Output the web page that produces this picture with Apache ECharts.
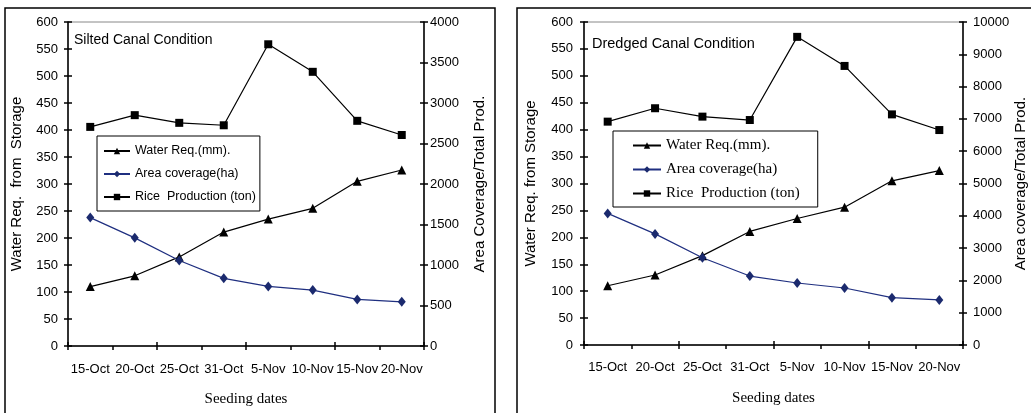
<!DOCTYPE html>
<html>
<head>
<meta charset="utf-8">
<script src="https://cdn.jsdelivr.net/npm/echarts@6/dist/echarts.min.js"></script>
<style>
html,body{margin:0;padding:0;background:#fff;}
#c{width:1031px;height:413px;}
</style>
</head>
<body>
<div id="c"></div>
<script>
const categories = ['15-Oct','20-Oct','25-Oct','31-Oct','5-Nov','10-Nov','15-Nov','20-Nov'];
const siltedWater = [110,130,165,211,235,255,305,326];
const siltedArea = [1585,1335,1055,835,735,690,575,545];
const siltedRice = [2705,2850,2755,2725,3725,3385,2780,2605];
const dredgedWater = [110,130,166,211,235,256,305,324];
const dredgedArea = [4075,3440,2700,2135,1920,1765,1465,1395];
const dredgedRice = [6915,7330,7070,6965,9540,8640,7140,6655];
const seriesNames = ['Water Req.(mm).','Area coverage(ha)','Rice  Production (ton)'];
const leftAxisTicks = {min:0,max:600,interval:50};
const siltedRightTicks = {min:0,max:4000,interval:500};
const dredgedRightTicks = {min:0,max:10000,interval:1000};

const SANS = 'Liberation Sans, Arial, sans-serif';
const SERIF = 'Liberation Serif, Times New Roman, serif';
const NAVY = '#1f2f80';

function xMain(grid, margin){
  return {type:'category',gridIndex:grid,data:categories,boundaryGap:true,
    axisLine:{lineStyle:{color:'#000',width:1.5}},
    axisTick:{show:true,length:4,inside:false,lineStyle:{color:'#000',width:1.5}},
    axisLabel:{color:'#000',fontFamily:SANS,fontSize:13,margin:margin,interval:0},
    name:'Seeding dates',nameLocation:'middle',nameGap:46,
    nameTextStyle:{color:'#000',fontFamily:SERIF,fontSize:15}};
}
function xIn(grid){
  return {type:'category',gridIndex:grid,data:categories,boundaryGap:true,position:'bottom',
    axisLine:{show:false},axisTick:{show:true,inside:true,length:4,lineStyle:{color:'#000',width:1.5}},
    axisLabel:{show:false},splitLine:{show:false}};
}
function yMain(grid, pos, t, name, gap, margin){
  return {type:'value',gridIndex:grid,position:pos,min:t.min,max:t.max,interval:t.interval,
    axisLine:{show:true,lineStyle:{color:'#000',width:1.5}},
    axisTick:{show:true,length:4,inside:false,lineStyle:{color:'#000',width:1.5}},
    axisLabel:{color:'#000',fontFamily:SANS,fontSize:13,margin:margin,formatter:function(v){return String(v);}},
    splitLine:{show:false},
    name:name,nameLocation:'middle',nameGap:gap,nameRotate:90,
    nameTextStyle:{color:'#000',fontFamily:SANS,fontSize:15}};
}
function yIn(grid,pos,t){
  return {type:'value',gridIndex:grid,position:pos,min:t.min,max:t.max,interval:t.interval,
    axisLine:{show:false},axisTick:{show:true,inside:true,length:4,lineStyle:{color:'#000',width:1.5}},
    axisLabel:{show:false},splitLine:{show:false}};
}
function mkSeries(name,data,xi,yi,color,symbol,size){
  return {type:'line',name:name,data:data,xAxisIndex:xi,yAxisIndex:yi,
    symbol:symbol,symbolSize:size,showSymbol:true,animation:false,
    lineStyle:{color:color,width:1.2},itemStyle:{color:color==='#000'?'#000':'#1b2a6e'},
    emphasis:{disabled:true}};
}

const chart = echarts.init(document.getElementById('c'),null,{renderer:'canvas'});
chart.setOption({
  backgroundColor:'#fff',
  animation:false,
  title:[
    {text:'Silted Canal Condition',left:74,top:33,textStyle:{color:'#000',fontFamily:SANS,fontSize:14,fontWeight:'normal'},padding:0},
    {text:'Dredged Canal Condition',left:592,top:36,textStyle:{color:'#000',fontFamily:SANS,fontSize:14.5,fontWeight:'normal'},padding:0}
  ],
  grid:[
    {left:68,top:22,right:607,bottom:67,show:true,borderColor:'#888',borderWidth:1,backgroundColor:'transparent'},
    {left:584,top:22,right:68,bottom:68,show:true,borderColor:'#888',borderWidth:1,backgroundColor:'transparent'}
  ],
  xAxis:[xMain(0,17),xIn(0),xMain(1,16),xIn(1)],
  yAxis:[
    yMain(0,'left',leftAxisTicks,'Water Req.  from  Storage',44,10),
    yIn(0,'left',leftAxisTicks),
    yMain(0,'right',siltedRightTicks,'Area Coverage/Total Prod.',48,6),
    yIn(0,'right',siltedRightTicks),
    yMain(1,'left',leftAxisTicks,'Water Req. from Storage',46,11),
    yIn(1,'left',leftAxisTicks),
    yMain(1,'right',dredgedRightTicks,'Area coverage/Total Prod.',50,10),
    yIn(1,'right',dredgedRightTicks)
  ],
  legend:[
    {data:seriesNames,orient:'vertical',left:97,top:136,itemWidth:26,itemHeight:8,itemGap:9,
     padding:[8,4,7,6],borderColor:'#000',borderWidth:1,backgroundColor:'#fff',selectedMode:false,
     textStyle:{color:'#000',fontFamily:SANS,fontSize:12.5,lineHeight:14}},
    {data:seriesNames,orient:'vertical',left:613,top:131,itemWidth:28,itemHeight:8,itemGap:9,
     padding:[7,18,6,19],borderColor:'#000',borderWidth:1,backgroundColor:'#fff',selectedMode:false,
     textStyle:{color:'#000',fontFamily:SERIF,fontSize:15,lineHeight:15}}
  ],
  graphic:[
    {type:'rect',shape:{x:5,y:8,width:490,height:420},style:{fill:'none',stroke:'#000',lineWidth:1.5},silent:true,z:-1},
    {type:'rect',shape:{x:517,y:8,width:600,height:420},style:{fill:'none',stroke:'#000',lineWidth:1.5},silent:true,z:-1}
  ],
  series:[
    mkSeries(seriesNames[0],siltedWater,0,0,'#000','triangle',9),
    mkSeries(seriesNames[1],siltedArea,0,2,NAVY,'diamond',[8,10]),
    mkSeries(seriesNames[2],siltedRice,0,2,'#000','rect',8),
    mkSeries(seriesNames[0],dredgedWater,2,4,'#000','triangle',9),
    mkSeries(seriesNames[1],dredgedArea,2,6,NAVY,'diamond',[8,10]),
    mkSeries(seriesNames[2],dredgedRice,2,6,'#000','rect',8)
  ]
});
</script>
</body>
</html>
